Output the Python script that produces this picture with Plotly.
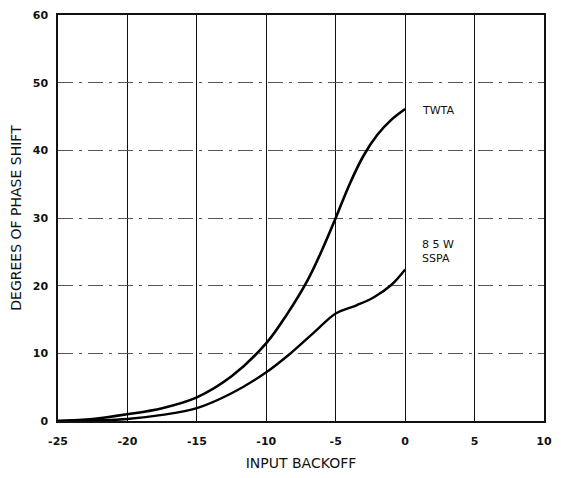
import plotly.graph_objects as go

twta_x = [-25, -22.5, -20, -17.5, -15, -12.5, -10, -8.5, -7, -6, -5, -4, -3, -2, -1, 0]
twta_y = [0, 0.3, 1.0, 1.9, 3.5, 6.6, 11.5, 15.8, 20.9, 25.2, 30, 35.0, 39.2, 42.3, 44.5, 46.1]
sspa_x = [-25, -22.5, -20, -17.5, -15, -12.5, -10, -8.25, -6.5, -5, -3.5, -2.25, -1, 0]
sspa_y = [0, 0.1, 0.3, 0.9, 1.9, 4.1, 7.2, 10.0, 13.2, 15.9, 17.1, 18.3, 20.1, 22.4]

x_ticks = [-25, -20, -15, -10, -5, 0, 5, 10]
y_ticks = [0, 10, 20, 30, 40, 50, 60]

tick_family = "DejaVu Sans, sans-serif"
title_family = "DejaVu Sans, sans-serif"

fig = go.Figure()
fig.add_trace(go.Scatter(x=twta_x, y=twta_y, mode="lines",
                         line=dict(color="black", width=2.6, shape="spline", smoothing=1.0),
                         showlegend=False))
fig.add_trace(go.Scatter(x=sspa_x, y=sspa_y, mode="lines",
                         line=dict(color="black", width=2.4, shape="spline", smoothing=1.0),
                         showlegend=False))

fig.update_xaxes(range=[-25, 10], tickvals=x_ticks, ticktext=[str(v) for v in x_ticks],
                 showgrid=True, gridcolor="#111", gridwidth=1.3, griddash="solid",
                 showline=True, linecolor="#111", linewidth=1.5, mirror=True,
                 zeroline=False, ticks="", ticklabelstandoff=9,
                 tickfont=dict(family=tick_family, size=11, color="#111", weight="bold"),
                 title=dict(text="INPUT BACKOFF", standoff=11,
                            font=dict(family=title_family, size=14, color="#111")))
fig.update_yaxes(range=[0, 60], tickvals=y_ticks, ticktext=[str(v) for v in y_ticks],
                 showgrid=True, gridcolor="#555", gridwidth=1.2, griddash="longdashdot",
                 showline=True, linecolor="#111", linewidth=1.5, mirror=True,
                 zeroline=False, ticks="", ticklabelstandoff=6,
                 tickfont=dict(family=tick_family, size=11, color="#111", weight="bold"),
                 title=dict(text="DEGREES OF PHASE SHIFT", standoff=8,
                            font=dict(family=title_family, size=14, color="#111")))

fig.add_annotation(x=1.1, y=45.9, text="TWTA", showarrow=False, xanchor="left",
                   font=dict(family=tick_family, size=11, color="#111"))
fig.add_annotation(x=1.1, y=25.0, text="8 5 W<br>SSPA", showarrow=False, xanchor="left",
                   align="left", font=dict(family=tick_family, size=11, color="#111"))

fig.update_layout(width=561, height=478, margin=dict(l=58, r=9, t=12, b=46),
                  plot_bgcolor="white", paper_bgcolor="white")

fig.write_html("out.html")
